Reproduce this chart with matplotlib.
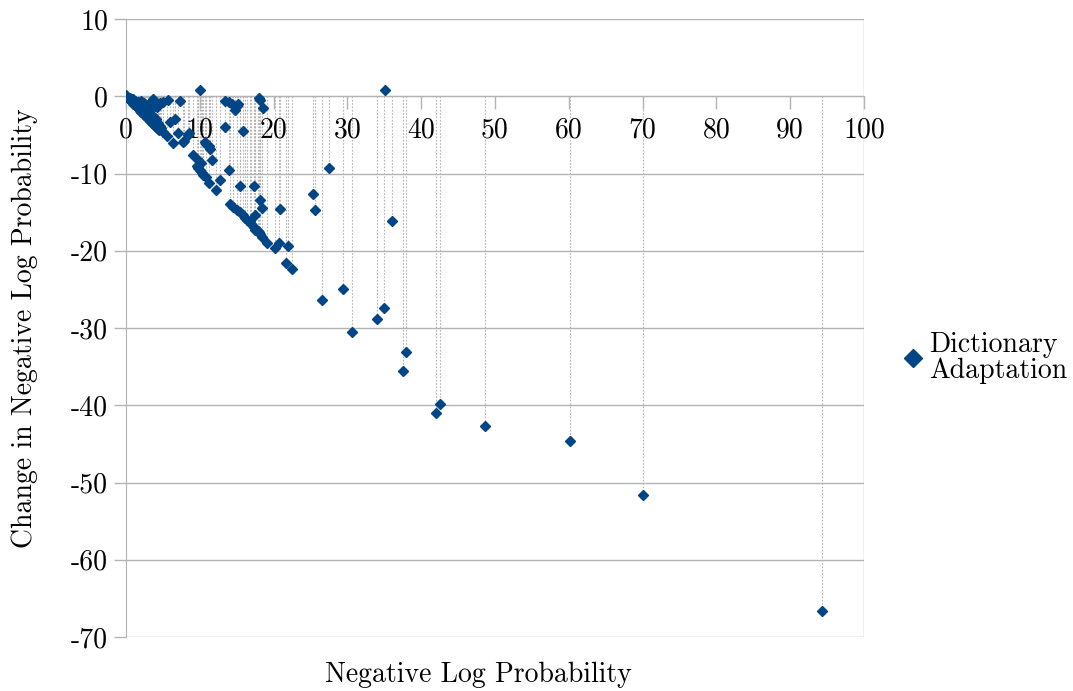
import matplotlib
matplotlib.use("Agg")
import matplotlib.pyplot as plt
from matplotlib.lines import Line2D
from matplotlib.ticker import FuncFormatter

plt.rcParams["font.family"] = ["cmr10", "DejaVu Serif"]
plt.rcParams["axes.unicode_minus"] = False
plt.rcParams["axes.formatter.use_mathtext"] = True

# negative log probability (x) and change in it (y)
nlp = [0.0, 0.1, 0.2, 0.3, 0.4, 0.5, 0.6, 0.7, 0.8, 0.9, 1.0, 1.2, 1.3, 1.5, 1.7,
       1.9, 2.1, 2.3, 2.5, 2.7, 2.9, 3.1, 3.3, 3.5, 3.7, 3.9, 4.1, 4.3, 4.5,
       0.5, 0.8, 1.0, 1.2, 1.5, 1.6, 1.8, 2.0, 2.2, 2.5, 2.6, 2.8, 3.0, 3.2,
       3.4, 3.6, 3.6, 3.9, 4.0, 4.15, 4.3, 4.6, 4.6, 4.8,
       5.05, 5.7, 7.3, 5.96, 6.6, 7.1, 8.6, 7.8, 6.4, 5.6, 5.0, 8.4, 7.7,
       9.1, 9.8, 10.2, 9.6, 9.8, 10.0, 10.3, 10.5, 10.9, 11.3, 12.2,
       10.0, 10.7, 10.9, 11.2, 11.4, 11.7, 12.7, 13.9, 13.4, 13.4, 13.9, 14.3,
       15.0, 14.8, 15.2, 15.9,
       14.1, 14.5, 15.0, 15.4, 15.9, 16.4, 16.8, 17.3, 17.5, 17.9, 18.2, 18.4,
       16.1, 17.0, 18.0,
       15.5, 17.3, 17.5, 18.2, 18.4, 18.0, 18.2, 18.6, 19.1, 20.2, 20.7, 20.8,
       22.0, 21.7, 22.5,
       25.3, 25.6, 26.6, 27.5, 29.4, 30.6, 34.0, 34.9, 35.1, 36.0, 37.6, 38.0,
       41.96, 42.5, 48.7, 60.1, 70.0, 94.3]
delta = [0.1, -0.05, -0.1, -0.25, -0.3, -0.45, -0.55, -0.6, -0.75, -0.85, -0.95,
         -1.1, -1.3, -1.4, -1.6, -1.85, -2.0, -2.2, -2.45, -2.6, -2.8, -3.0, -3.2,
         -3.4, -3.6, -3.8, -4.0, -4.2, -4.4,
         -0.2, -0.4, -0.3, -0.6, -0.8, -0.7, -1.2, -0.6, -1.4, -0.9, -1.8, -1.2,
         -2.2, -1.6, -0.7, -0.4, -2.6, -1.3, -3.0, -1.4, -3.4, -0.9, -3.8, -4.1,
         -0.7, -0.5, -0.65, -3.3, -3.0, -4.8, -4.8, -5.8, -6.1, -5.2, -4.6, -5.0,
         -5.9,
         -7.6, -8.3, -8.6, -9.0, -9.3, -9.6, -9.9, -10.2, -10.4, -11.2, -12.1,
         0.85, -5.9, -6.2, -6.5, -6.8, -8.2, -10.8, -9.6, -4.0, -0.6, -0.8, -1.0,
         -1.2, -1.8, -1.0, -4.5,
         -13.9, -14.3, -14.7, -15.0, -15.4, -16.0, -16.2, -16.9, -17.3, -17.5,
         -17.8, -18.2, -15.8, -16.6, -17.6,
         -11.6, -11.6, -15.4, -13.4, -14.5, -0.2, -0.5, -1.55, -19.0, -19.7,
         -19.0, -14.6, -19.4, -21.6, -22.3,
         -12.7, -14.7, -26.4, -9.3, -24.9, -30.5, -28.8, -27.4, 0.87, -16.2,
         -35.6, -33.1, -41.0, -39.9, -42.7, -44.6, -51.6, -66.6]

x_ticks = list(range(0, 101, 10))
y_ticks = list(range(-70, 11, 10))
series_name = "Dictionary\nAdaptation"
blue = "#004586"
grey = "#b3b3b3"

fig = plt.figure(figsize=(10.73, 6.91), dpi=100)
ax = fig.add_axes([126/1073, 1 - 637/691, (864-126)/1073, (637-19)/691])

ax.set_xlim(0, 100)
ax.set_ylim(-70, 10)
for yt in y_ticks:
    ax.axhline(yt, color=grey, lw=1.0, zorder=0)
ax.axvline(100, color=grey, lw=1.0, zorder=0)

ax.vlines(nlp, 0, delta, colors=grey, linestyles=(0, (1.5, 1.5)), lw=0.8, zorder=1)
ax.plot(nlp, delta, ls="none", marker="D", ms=4.8, color=blue, mec=blue, zorder=3)

for s in ["top", "right"]:
    ax.spines[s].set_visible(False)
ax.spines["left"].set_color(grey)
ax.spines["bottom"].set_color(grey)
ax.spines["bottom"].set_position(("data", 0))
ax.spines["left"].set_zorder(0)
ax.spines["bottom"].set_zorder(0)

ax.set_xticks(x_ticks)
ax.set_yticks(y_ticks)
fmt = FuncFormatter(lambda v, p: "%d" % v)
ax.xaxis.set_major_formatter(fmt)
ax.yaxis.set_major_formatter(fmt)
ax.tick_params(axis="both", color=grey, length=9, width=1.0, labelsize=20, pad=4)
ax.tick_params(axis="x", pad=6)

fig.text(478/1073, 1 - 675/691, "Negative Log Probability", ha="center", va="center", fontsize=20)
fig.text(25/1073, 1 - 328/691, "Change in Negative Log Probability", ha="center", va="center",
         rotation=90, fontsize=20)

h = Line2D([], [], ls="none", marker="D", ms=9, color=blue)
leg = fig.legend([h], [series_name], loc="center left", bbox_to_anchor=(902/1073, 1 - 358/691),
                 frameon=False, fontsize=20, handlelength=0.8, handletextpad=0.17, borderpad=0,
                 borderaxespad=0)
for t in leg.get_texts():
    t.set_linespacing(0.95)

fig.savefig("out.png", dpi=100)
